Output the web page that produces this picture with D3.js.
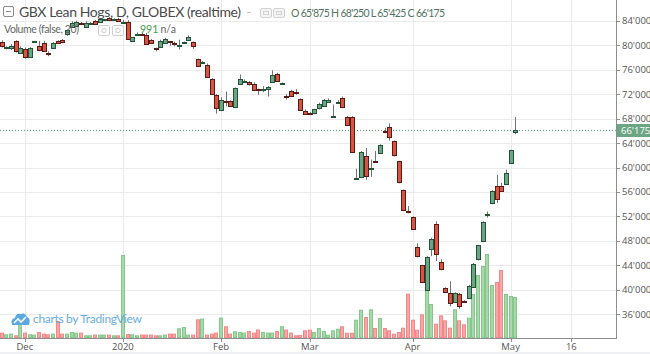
<!DOCTYPE html>
<html><head><meta charset="utf-8">
<script src="https://cdn.jsdelivr.net/npm/d3@7/dist/d3.min.js"></script>
<style>html,body{margin:0;padding:0;background:#fff;overflow:hidden}svg{display:block}</style>
</head><body><svg id="c" width="650" height="354"></svg>
<script>
// ---- data (prices in thousands of points, one entry per trading day) ----
const opens = [80.55,79.6,79.4,80.6,78.75,79.4,78.1,80.5,79.8,80.4,78.8,79.5,80.6,80.9,81.7,83.0,83.2,83.6,83.0,83.5,
84.0,83.7,84.1,84.4,84.2,84.35,83.7,83.8,80.6,81.7,81.9,81.7,80.9,79.5,79.75,80.4,80.6,80.4,80.0,80.3,
80.9,80.5,77.7,77.2,76.8,74.5,71.9,69.4,70.9,70.8,69.9,73.65,74.1,73.9,73.7,72.8,72.85,72.9,74.0,75.3,
73.75,71.7,72.5,72.3,71.25,69.3,68.95,68.8,69.7,70.1,70.8,68.45,70.7,71.4,68.25,68.2,58.2,58.45,61.8,59.8,
61.05,62.4,65.95,66.7,64.3,61.0,56.3,52.9,51.9,47.0,44.0,40.05,46.7,50.7,44.5,40.3,39.5,38.1,39.4,38.15,
38.7,40.6,44.95,47.95,52.3,54.2,56.9,56.9,57.35,60.75,65.875];
const highs = [80.8,79.8,80.2,80.8,79.8,79.6,79.7,80.7,80.7,80.7,79.0,80.5,80.8,81.0,82.6,83.9,84.0,83.8,83.9,83.8,
84.1,84.4,84.3,84.6,84.4,84.5,84.1,84.1,81.3,82.1,82.0,82.0,81.0,79.6,80.9,81.2,80.7,80.6,80.9,80.6,
81.6,80.6,77.8,77.4,77.0,74.6,72.0,71.5,72.4,71.0,73.1,75.2,74.4,74.1,73.9,72.9,73.3,73.3,75.9,75.5,
73.9,72.0,72.7,72.8,71.3,69.5,69.1,69.6,70.6,71.2,71.3,70.3,71.0,71.6,68.4,68.4,59.8,62.7,63.2,61.3,
62.7,63.8,66.5,67.2,64.4,61.1,56.4,53.7,52.0,47.6,44.1,45.5,48.5,51.2,45.0,40.4,41.4,39.6,39.5,38.3,
40.8,44.4,47.3,51.2,52.8,56.3,58.8,57.5,59.65,62.9,68.25];
const lows = [79.6,79.3,79.2,78.8,78.6,77.8,78.0,80.4,79.0,79.0,78.2,79.4,80.2,80.3,81.5,82.9,83.1,83.4,82.9,83.3,
83.4,83.6,84.0,84.0,84.1,83.9,83.6,81.0,80.5,81.5,81.7,80.1,80.3,79.0,79.6,80.3,79.9,79.8,79.3,80.2,
80.8,79.4,76.5,77.0,74.8,72.0,68.8,69.2,70.0,69.9,69.8,73.5,73.9,73.4,72.5,71.9,72.3,71.6,73.9,74.0,
73.6,71.1,71.6,71.9,69.3,68.7,68.7,68.7,69.5,70.0,70.6,68.3,70.5,69.8,66.9,62.4,58.0,58.3,58.0,58.45,
60.75,62.3,65.6,64.4,61.8,57.4,52.9,52.5,49.8,45.3,41.1,39.9,45.5,44.7,43.2,39.5,37.3,37.9,36.9,37.9,
38.5,40.5,44.8,47.8,51.8,54.0,54.2,56.0,57.2,60.6,65.425];
const closes = [79.9,79.65,79.8,78.9,79.55,78.1,79.6,80.6,79.1,79.1,78.7,80.3,80.3,80.5,82.4,83.7,83.8,83.5,83.7,83.6,
83.5,84.2,84.2,84.1,84.3,84.0,83.75,81.1,81.3,81.8,81.85,80.2,80.4,79.4,80.7,81.0,80.55,80.35,80.1,80.45,
81.4,79.8,76.6,77.25,74.9,72.1,69.7,71.1,70.85,70.0,73.0,74.5,74.15,73.5,72.7,72.7,72.9,73.2,75.2,74.1,
73.85,71.6,71.7,72.25,69.45,68.8,68.9,69.5,70.4,71.1,71.1,68.5,70.75,69.9,67.0,62.55,58.25,62.55,58.45,59.85,
61.0,63.75,65.9,65.0,61.95,57.6,53.0,52.85,49.95,45.5,41.25,45.4,48.3,45.8,43.4,39.65,37.85,39.5,37.4,38.1,
40.7,44.3,47.25,51.1,52.35,56.1,54.85,56.1,59.1,62.8,66.175];
const volumes = [109,67,84,42,290,109,67,60,124,84,67,84,397,84,84,124,109,109,42,42,
60,60,60,60,42,42,2034,74,67,42,60,60,60,42,42,60,84,84,216,248,
60,60,439,456,60,84,109,481,265,84,141,124,109,149,109,184,124,109,109,149,
265,184,109,42,50,166,181,124,223,149,57,166,206,265,107,107,429,677,496,687,
223,471,223,166,82,124,231,1074,429,181,563,1166,818,330,538,414,231,687,414,315,
479,1066,1538,1761,2058,1290,1364,1662,1066,1017,991];
const priceTicks = [36000,40000,44000,48000,52000,56000,60000,64000,68000,72000,76000,80000,84000];
const dateTickIndex = [5,26,47,66,88,109,122];
const dateTickLabels = ["Dec","2020","Feb","Mar","Apr","May","16"];
const lastPrice = 66175;
const title = "GBX Lean Hogs, D, GLOBEX (realtime)";

// ---- layout ----
const svg = d3.select("#c");
const axisX = 616, axisY = 338;
const x = d3.scaleLinear().domain([0, 110]).range([1.5, 515.3]);
const y = d3.scaleLinear().domain([36000, 84000]).range([314.3, 20.7]);
const yv = d3.scaleLinear().domain([0, 2480]).range([337, 237]);
const fmt = v => d3.format(",")(v).replace(/,/g, "'");
const FONT = "'Open Sans', 'DejaVu Sans', sans-serif";
const LFONT = "Lato, 'Open Sans', sans-serif";
const UP = "#6ba583", DOWN = "#d75442", UPB = "#225437", DOWNB = "#5b1a13", WICK = "#737375";

const n = closes.length;
const bars = d3.range(n).map(i => ({i, o: opens[i]*1000, h: highs[i]*1000, l: lows[i]*1000, c: closes[i]*1000, v: volumes[i]}));

svg.append("defs").append("clipPath").attr("id","plot").append("rect")
  .attr("x",0).attr("y",0).attr("width",axisX).attr("height",axisY);
const plot = svg.append("g").attr("clip-path","url(#plot)");

// gridlines
plot.append("g").selectAll("line").data(priceTicks).join("line")
  .attr("x1",0).attr("x2",axisX)
  .attr("y1",d=>Math.round(y(d))+0.5).attr("y2",d=>Math.round(y(d))+0.5)
  .attr("stroke","#ebebeb").attr("stroke-width",1);
plot.append("g").selectAll("line").data(dateTickIndex).join("line")
  .attr("x1",d=>Math.round(x(d))+0.5).attr("x2",d=>Math.round(x(d))+0.5)
  .attr("y1",0).attr("y2",axisY)
  .attr("stroke","#ebebeb").attr("stroke-width",1);

// volume
plot.append("g").selectAll("rect").data(bars).join("rect")
  .attr("x",d=>Math.round(x(d.i))-1.5)
  .attr("width",3)
  .attr("y",d=>yv(d.v)+0.5)
  .attr("height",d=>Math.max(0.5, yv(0)-yv(d.v)))
  .attr("fill",d=>d.c>=d.o ? "#a6d8a9" : "#fba5a5")
  .attr("stroke",d=>d.c>=d.o ? "#86c78b" : "#f08a8a")
  .attr("stroke-width",1);

// last price dotted line
plot.append("line")
  .attr("x1",0).attr("x2",axisX)
  .attr("y1",Math.round(y(lastPrice))+0.5).attr("y2",Math.round(y(lastPrice))+0.5)
  .attr("stroke","#5f9e7c").attr("stroke-width",1).attr("stroke-dasharray","1,2");

// legend texts (under candles)
const lg = svg.append("g");
lg.append("rect").attr("x",3.5).attr("y",6.5).attr("width",10).attr("height",10).attr("rx",1.5)
  .attr("fill","none").attr("stroke","#8a8a8a");
lg.append("line").attr("x1",6).attr("x2",11).attr("y1",11.5).attr("y2",11.5).attr("stroke","#8a8a8a");
lg.append("text").attr("x",19).attr("y",17).attr("font-family",LFONT).attr("font-size",14)
  .attr("textLength",222).attr("lengthAdjust","spacing")
  .attr("fill","#4a4a4a").text(title);
lg.append("line").attr("x1",247).attr("x2",251).attr("y1",12.5).attr("y2",12.5).attr("stroke","#c4c4c4");
[260,273].forEach(px=>{
  lg.append("rect").attr("x",px+0.5).attr("y",8.5).attr("width",11).attr("height",9).attr("rx",1.5)
    .attr("fill","#f4f4f4").attr("stroke","#d2d2d2");
  lg.append("rect").attr("x",px+3.5).attr("y",11.5).attr("width",5).attr("height",3)
    .attr("fill","none").attr("stroke","#d2d2d2");
});
const last = bars[n-1];
const ohlcText = [["O",last.o],["H",last.h],["L",last.l],["C",last.c]]
  .map(([k,v])=>k+" "+fmt(Math.round(v))).join(" ");
lg.append("text").attr("x",291).attr("y",17).attr("font-family",LFONT).attr("font-size",10.5)
  .attr("textLength",154).attr("lengthAdjust","spacing")
  .attr("fill","#537463").text(ohlcText);
lg.append("text").attr("x",4).attr("y",33).attr("font-family",LFONT).attr("font-size",10.5)
  .attr("textLength",75).attr("lengthAdjust","spacing")
  .attr("fill","#666").text("Volume (false, 20)");

// candles
const cg = plot.append("g");
cg.selectAll("line").data(bars).join("line")
  .attr("x1",d=>Math.round(x(d.i))+0.5).attr("x2",d=>Math.round(x(d.i))+0.5)
  .attr("y1",d=>y(d.h)).attr("y2",d=>y(d.l))
  .attr("stroke",WICK).attr("stroke-width",1);
cg.selectAll("rect").data(bars).join("rect")
  .attr("x",d=>Math.round(x(d.i))-1.5)
  .attr("width",4)
  .attr("y",d=>Math.round(y(Math.max(d.o,d.c)))+0.5)
  .attr("height",d=>Math.max(1, Math.round(Math.abs(y(d.o)-y(d.c)))))
  .attr("fill",d=>d.c>=d.o?UP:DOWN)
  .attr("stroke",d=>d.c>=d.o?UPB:DOWNB)
  .attr("stroke-width",1);

// legend icons over candles
[98,112].forEach(px=>{
  svg.append("rect").attr("x",px+0.5).attr("y",25.5).attr("width",11).attr("height",10).attr("rx",1.5)
    .attr("fill","#ffffff").attr("fill-opacity",0.75).attr("stroke","#d0d0d0");
  svg.append("circle").attr("cx",px+6).attr("cy",30.5).attr("r",2.2).attr("fill","none").attr("stroke","#cfcfcf");
});
svg.append("text").attr("x",140).attr("y",33).attr("font-family",LFONT).attr("font-size",10.5)
  .attr("fill","#3a9e47").text(fmt(last.v));
svg.append("text").attr("x",160.5).attr("y",33).attr("font-family",LFONT).attr("font-size",10.5)
  .attr("fill","#666").text("n/a");

// watermark
const wm = svg.append("g").attr("opacity",0.9);
wm.append("path").attr("d","M12,325 Q10,319 15,318 Q16,313 21,314 Q25,312 27,317 Q31,318 29,325 Z").attr("fill","#4a9fe0");
wm.append("path").attr("d","M14,323 L18,319 L21,322 L26,317").attr("fill","none").attr("stroke","#fff").attr("stroke-width",1.6);
wm.append("text").attr("x",33).attr("y",323).attr("font-family",LFONT).attr("font-size",12)
  .attr("textLength",109).attr("lengthAdjust","spacing")
  .attr("fill","#5aa6de").text("charts by TradingView");

// price axis
const pa = svg.append("g");
pa.append("rect").attr("x",axisX+1).attr("y",0).attr("width",650-axisX).attr("height",axisY).attr("fill","#fff");
pa.append("line").attr("x1",axisX+0.5).attr("x2",axisX+0.5).attr("y1",0).attr("y2",axisY+1).attr("stroke","#8d8d8d");
pa.selectAll(".t").data(priceTicks).join("line")
  .attr("x1",axisX+1).attr("x2",axisX+4)
  .attr("y1",d=>Math.round(y(d))+0.5).attr("y2",d=>Math.round(y(d))+0.5).attr("stroke","#8d8d8d");
pa.selectAll("text").data(priceTicks).join("text")
  .attr("x",axisX+6).attr("y",d=>y(d)+3.5).attr("font-family",FONT).attr("font-size",9.5)
  .attr("fill","#555").text(d=>fmt(d));
pa.append("rect").attr("x",axisX+1).attr("y",Math.round(y(lastPrice))-6).attr("width",650-axisX-1).attr("height",13)
  .attr("fill","#6ba583");
pa.append("text").attr("x",axisX+5).attr("y",Math.round(y(lastPrice))+4).attr("font-family",FONT).attr("font-size",9.5)
  .attr("fill","#fff").text(fmt(lastPrice));

// time axis
const ta = svg.append("g");
ta.append("line").attr("x1",0).attr("x2",axisX+1).attr("y1",axisY+0.5).attr("y2",axisY+0.5).attr("stroke","#8d8d8d");
ta.selectAll("line.tk").data(dateTickIndex).join("line").attr("class","tk")
  .attr("x1",d=>Math.round(x(d))+0.5).attr("x2",d=>Math.round(x(d))+0.5)
  .attr("y1",axisY+1).attr("y2",axisY+4).attr("stroke","#8d8d8d");
ta.selectAll("text").data(dateTickIndex).join("text")
  .attr("x",d=>x(d)).attr("y",349.5).attr("text-anchor","middle").attr("font-family",FONT).attr("font-size",9.5)
  .attr("fill","#555").text((d,k)=>dateTickLabels[k]);
svg.append("rect").attr("x",0).attr("y",352).attr("width",650).attr("height",2).attr("fill","#eef0f3");
</script></body></html>
